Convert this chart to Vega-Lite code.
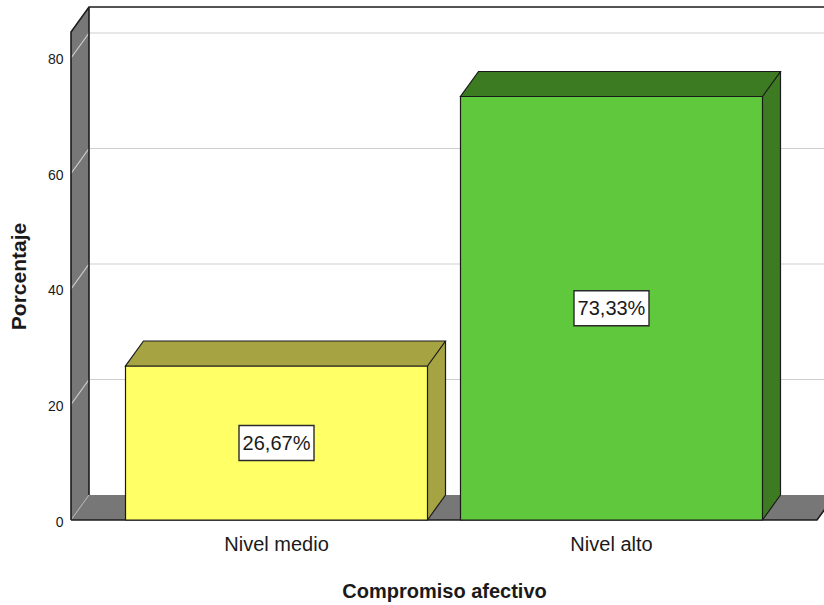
{
  "$schema": "https://vega.github.io/schema/vega-lite/v6.json",
  "width": 746,
  "height": 488,
  "autosize": {"type": "none"},
  "padding": {"left": 71, "top": 32, "right": 7, "bottom": 85},
  "background": "white",
  "config": {
    "view": {"stroke": null},
    "font": "Liberation Sans",
    "locale": {"number": {"decimal": ",", "thousands": ".", "grouping": [3], "currency": ["", "%"]}},
    "axisX": {"domain": false, "ticks": false, "tickSize": 0, "labelAngle": 0, "labelPadding": 14, "labelFontSize": 20, "labelColor": "#1a1a1a", "titleFontSize": 20, "titleFontWeight": "bold", "titleColor": "#1a1a1a", "titlePadding": 27},
    "axisY": {"domain": false, "ticks": false, "tickSize": 0, "grid": false, "labelPadding": 8, "labelOffset": 2, "labelFontSize": 14, "labelColor": "#1a1a1a", "titleFontSize": 21, "titleFontWeight": "bold", "titleColor": "#1a1a1a", "titlePadding": 18}
  },
  "data": {
    "values": [
      {"nivel": "Nivel medio", "porcentaje": 26.67},
      {"nivel": "Nivel alto", "porcentaje": 73.33}
    ]
  },
  "resolve": {"scale": {"y": "independent"}, "axis": {"y": "independent"}},
  "layer": [
    {
      "layer": [
        {
          "description": "floor and left wall of the 3D box",
          "transform": [{"filter": "datum.nivel == 'Nivel medio'"}],
          "mark": {"type": "point", "shape": "M-205.5,0 L540.5,0 L558.5,-25 L-187.5,-25 L-187.5,-513 L-205.5,-488 Z", "size": 4, "filled": true, "fill": "#777777", "opacity": 1},
          "encoding": {
            "x": {"field": "nivel", "type": "nominal", "title": "Compromiso afectivo", "scale": {"domain": ["Nivel medio", "Nivel alto"], "paddingInner": 0.0985, "paddingOuter": 0.1627}},
            "y": {"datum": 0, "type": "quantitative", "title": "Porcentaje", "scale": {"domain": [0, 84.5], "nice": false}, "axis": {"values": [0, 20, 40, 60, 80]}}
          }
        },
        {
          "description": "gridlines on the back wall, continued across the left wall",
          "data": {"values": [{"v": 20}, {"v": 40}, {"v": 60}, {"v": 80}]},
          "mark": {"type": "point", "shape": "M-205.5,0 L-187.5,-25 L620,-25", "size": 4, "filled": false, "stroke": "#cfcfcf", "strokeWidth": 1.2, "opacity": 1},
          "encoding": {
            "x": {"datum": "Nivel medio", "type": "nominal", "title": "Compromiso afectivo"},
            "y": {"field": "v", "type": "quantitative", "title": "Porcentaje"}
          }
        },
        {
          "transform": [{"filter": "datum.nivel == 'Nivel medio'"}],
          "mark": {"type": "point", "shape": "M-205.5,0 L-187.5,-25", "size": 4, "filled": false, "stroke": "#bdbdbd", "strokeWidth": 1, "opacity": 1},
          "encoding": {
            "x": {"field": "nivel", "type": "nominal", "title": "Compromiso afectivo"},
            "y": {"datum": 0, "type": "quantitative", "title": "Porcentaje"}
          }
        },
        {
          "description": "outer outline of the box",
          "transform": [{"filter": "datum.nivel == 'Nivel medio'"}],
          "mark": {"type": "point", "shape": "M-205.5,0 L540.5,0 L558.5,-25 M-205.5,0 L-205.5,-488 L-187.5,-513 L620,-513 M-187.5,-513 L-187.5,-25", "size": 4, "filled": false, "stroke": "#1c1c1c", "strokeWidth": 1.6, "opacity": 1},
          "encoding": {
            "x": {"field": "nivel", "type": "nominal", "title": "Compromiso afectivo"},
            "y": {"datum": 0, "type": "quantitative", "title": "Porcentaje"}
          }
        },
        {
          "description": "depth of each bar (back copy)",
          "mark": {"type": "bar", "xOffset": 18, "x2Offset": 18, "yOffset": -25, "y2Offset": -25},
          "encoding": {
            "x": {"field": "nivel", "type": "nominal", "title": "Compromiso afectivo"},
            "y": {"field": "porcentaje", "type": "quantitative", "title": "Porcentaje"},
            "fill": {"field": "nivel", "type": "nominal", "scale": {"domain": ["Nivel medio", "Nivel alto"], "range": ["#a6a343", "#3d7b22"]}, "legend": null}
          }
        },
        {
          "mark": {"type": "point", "shape": "M151,0 L169,-25 L151,-25 Z", "size": 4, "filled": true, "opacity": 1},
          "encoding": {
            "x": {"field": "nivel", "type": "nominal", "title": "Compromiso afectivo"},
            "y": {"datum": 0, "type": "quantitative", "title": "Porcentaje"},
            "fill": {"field": "nivel", "type": "nominal", "legend": null}
          }
        },
        {
          "description": "front faces",
          "mark": {"type": "bar", "stroke": "#1a1a1a", "strokeWidth": 1.2},
          "encoding": {
            "x": {"field": "nivel", "type": "nominal", "title": "Compromiso afectivo"},
            "y": {"field": "porcentaje", "type": "quantitative", "title": "Porcentaje"},
            "color": {"field": "nivel", "type": "nominal", "scale": {"domain": ["Nivel medio", "Nivel alto"], "range": ["#ffff66", "#60c83c"]}, "legend": null}
          }
        },
        {
          "description": "top faces",
          "mark": {"type": "point", "shape": "M-151,0 L151,0 L169,-25 L-133,-25 Z", "size": 4, "filled": true, "stroke": "#1a1a1a", "strokeWidth": 1.2, "opacity": 1},
          "encoding": {
            "x": {"field": "nivel", "type": "nominal", "title": "Compromiso afectivo"},
            "y": {"field": "porcentaje", "type": "quantitative", "title": "Porcentaje"},
            "fill": {"field": "nivel", "type": "nominal", "legend": null}
          }
        },
        {
          "mark": {"type": "rule", "xOffset": 169, "yOffset": -25, "y2Offset": -25, "stroke": "#1a1a1a", "strokeWidth": 1.2},
          "encoding": {
            "x": {"field": "nivel", "type": "nominal", "title": "Compromiso afectivo"},
            "y": {"field": "porcentaje", "type": "quantitative", "title": "Porcentaje"},
            "y2": {"datum": 0}
          }
        },
        {
          "mark": {"type": "point", "shape": "M151,0 L169,-25", "size": 4, "filled": false, "stroke": "#1a1a1a", "strokeWidth": 1.2, "opacity": 1},
          "encoding": {
            "x": {"field": "nivel", "type": "nominal", "title": "Compromiso afectivo"},
            "y": {"datum": 0, "type": "quantitative", "title": "Porcentaje"}
          }
        }
      ]
    },
    {
      "description": "value labels at mid height of each bar (scale twice as tall puts the value at its half)",
      "encoding": {
        "x": {"field": "nivel", "type": "nominal", "title": "Compromiso afectivo"},
        "y": {"field": "porcentaje", "type": "quantitative", "scale": {"domain": [0, 169], "nice": false}, "axis": null}
      },
      "layer": [
        {
          "mark": {"type": "point", "shape": "M-37.5,-17.5 L37.5,-17.5 L37.5,17.5 L-37.5,17.5 Z", "size": 4, "filled": true, "fill": "white", "stroke": "#2a2a2a", "strokeWidth": 1.4, "opacity": 1}
        },
        {
          "mark": {"type": "text", "fontSize": 20, "align": "center", "baseline": "middle", "dy": 1, "color": "#1a1a1a"},
          "encoding": {"text": {"field": "porcentaje", "type": "quantitative", "format": "$.2f"}}
        }
      ]
    }
  ]
}
